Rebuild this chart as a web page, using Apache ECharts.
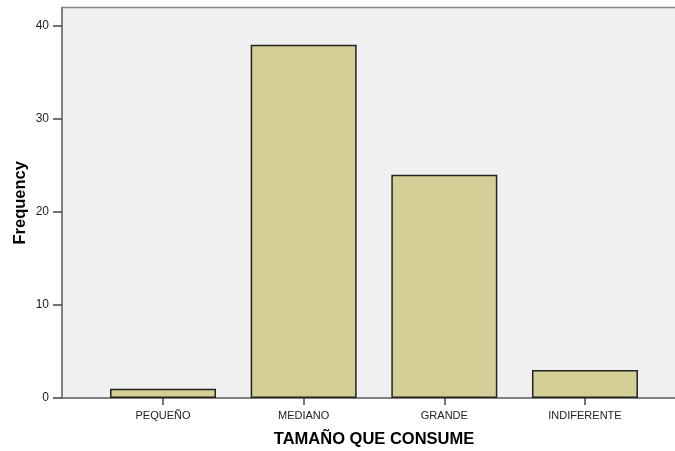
<!DOCTYPE html>
<html>
<head>
<meta charset="utf-8">
<script src="https://cdn.jsdelivr.net/npm/echarts@6/dist/echarts.min.js"></script>
<style>
html,body{margin:0;padding:0;background:#fff;}
#c{width:675px;height:451px;}
</style>
</head>
<body>
<div id="c"></div>
<script>
var categories = ['PEQUEÑO', 'MEDIANO', 'GRANDE', 'INDIFERENTE'];
var frequency = [1, 38, 24, 3];
var yTicks = [0, 10, 20, 30, 40];

var chart = echarts.init(document.getElementById('c'), null, {renderer: 'canvas'});
var font = 'Arial, "Liberation Sans", sans-serif';
chart.setOption({
  animation: false,
  grid: [
    {left: 62, right: -3, top: 7.5, bottom: 53, show: true, backgroundColor: '#F0F0F0', borderColor: '#888', borderWidth: 1.5, outerBoundsMode: 'none', containLabel: false},
    {left: 92.7, right: 19.7, top: 7.5, bottom: 53, outerBoundsMode: 'none', containLabel: false}
  ],
  xAxis: [
    {gridIndex: 0, type: 'value', min: 0, max: 1, show: true,
     axisLine: {show: true, onZero: false, lineStyle: {color: '#777', width: 1.5}},
     axisTick: {show: false}, axisLabel: {show: false}, splitLine: {show: false}},
    {gridIndex: 1, type: 'category', data: categories,
     axisLine: {show: false},
     axisTick: {show: true, alignWithLabel: true, length: 7, lineStyle: {color: '#444', width: 1.5}},
     axisLabel: {fontFamily: font, fontSize: 11, color: '#222', margin: 12},
     splitLine: {show: false},
     name: 'TAMAÑO QUE CONSUME', nameLocation: 'middle', nameGap: 33,
     nameTextStyle: {fontFamily: font, fontWeight: 'bold', fontSize: 16.5, color: '#000'}}
  ],
  yAxis: [
    {gridIndex: 0, type: 'value', min: 0, max: 42, interval: 10,
     axisLine: {show: true, lineStyle: {color: '#777', width: 1.5}},
     axisTick: {show: true, length: 9, customValues: yTicks, lineStyle: {color: '#444', width: 1.5}},
     axisLabel: {fontFamily: font, fontSize: 12, color: '#222', margin: 13, customValues: yTicks},
     splitLine: {show: false},
     name: 'Frequency', nameLocation: 'middle', nameGap: 33, nameMoveOverlap: false,
     nameTextStyle: {fontFamily: font, fontWeight: 'bold', fontSize: 16.5, color: '#000'}},
    {gridIndex: 1, type: 'value', min: 0, max: 42, show: false}
  ],
  series: [{
    type: 'bar', xAxisIndex: 1, yAxisIndex: 1,
    data: frequency, barWidth: 106,
    itemStyle: {color: '#D4CF97', borderColor: '#222', borderWidth: 1.5}
  }]
});
</script>
</body>
</html>
